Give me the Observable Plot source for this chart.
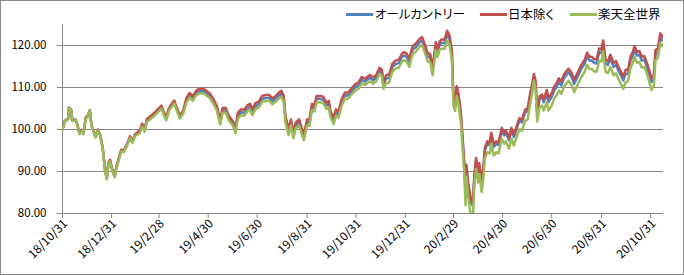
<!DOCTYPE html>
<html>
<head>
<meta charset="utf-8">
<script src="https://cdn.jsdelivr.net/npm/d3@7"></script>
<script src="https://cdn.jsdelivr.net/npm/@observablehq/plot@0.6"></script>
<style>
  html, body { margin: 0; padding: 0; background: #fff; }
  #wrap { position: relative; width: 684px; height: 275px; overflow: hidden; background: #fff; }
  #chart { position: absolute; left: 0; top: 0; }
  #frame { position: absolute; left: 0; top: 0; width: 684px; height: 275px; box-sizing: border-box; border: 1px solid #8a8a8a; pointer-events: none; }
  .leg { position: absolute; font-family: "Noto Sans CJK JP", sans-serif; font-size: 12.5px; line-height: 16px; top: 6px; color: #000; font-feature-settings: "palt"; white-space: nowrap; }
  .sw { position: absolute; top: 13px; height: 3px; width: 27px; }
  .xax text { font-size: 12px; }
</style>
</head>
<body>
<div id="wrap">
  <div id="chart"></div>
  <div id="legend"></div>
  <div id="frame"></div>
</div>
<script>
const seriesNames = ["オールカントリー", "日本除く", "楽天全世界"];
const seriesColors = ["#4F81BD", "#C0504D", "#9BBB59"];

const dates = [
  "2018-10-31","2018-11-03","2018-11-07","2018-11-08","2018-11-11","2018-11-12","2018-11-16","2018-11-18","2018-11-21","2018-11-24","2018-11-26","2018-11-29","2018-12-01","2018-12-04","2018-12-06","2018-12-11","2018-12-14","2018-12-17","2018-12-20",
  "2018-12-23","2018-12-25","2018-12-27","2018-12-29","2019-01-01","2019-01-04","2019-01-06","2019-01-09","2019-01-12","2019-01-15","2019-01-19","2019-01-23","2019-01-26","2019-01-29",
  "2019-02-04","2019-02-07","2019-02-10","2019-02-13","2019-02-18","2019-02-23","2019-02-27","2019-03-03","2019-03-06","2019-03-09","2019-03-12","2019-03-15","2019-03-19","2019-03-21","2019-03-26","2019-03-30",
  "2019-04-03","2019-04-07","2019-04-11","2019-04-15","2019-04-19","2019-04-24","2019-04-28","2019-05-02","2019-05-07","2019-05-11","2019-05-15","2019-05-18","2019-05-22","2019-05-25","2019-05-28","2019-05-31",
  "2019-06-03","2019-06-06","2019-06-10","2019-06-14","2019-06-18","2019-06-21","2019-06-24","2019-06-28","2019-07-02","2019-07-06","2019-07-11","2019-07-15","2019-07-19","2019-07-23","2019-07-27","2019-07-30","2019-08-02","2019-08-04","2019-08-08","2019-08-11","2019-08-14","2019-08-17","2019-08-21","2019-08-24","2019-08-27","2019-08-31",
  "2019-09-03","2019-09-06","2019-09-09","2019-09-12","2019-09-16","2019-09-20","2019-09-24","2019-09-27","2019-09-29","2019-10-03","2019-10-06","2019-10-09","2019-10-13","2019-10-17","2019-10-21","2019-10-26","2019-10-30","2019-11-03","2019-11-07","2019-11-11","2019-11-17","2019-11-21","2019-11-25","2019-11-29","2019-12-02","2019-12-04",
  "2019-12-07","2019-12-11","2019-12-15","2019-12-19","2019-12-23","2019-12-27","2019-12-30","2020-01-02","2020-01-05","2020-01-09","2020-01-13","2020-01-18","2020-01-21","2020-01-24","2020-01-28","2020-01-31","2020-02-03","2020-02-07","2020-02-09","2020-02-12",
  "2020-02-14","2020-02-18","2020-02-21","2020-02-24","2020-02-27","2020-02-28","2020-02-29",
  "2020-03-02","2020-03-04","2020-03-06","2020-03-09","2020-03-11","2020-03-13","2020-03-15","2020-03-16","2020-03-18","2020-03-20","2020-03-22","2020-03-24",
  "2020-03-26","2020-03-28","2020-03-31","2020-04-01","2020-04-04","2020-04-06","2020-04-08","2020-04-11","2020-04-14","2020-04-16","2020-04-19","2020-04-22","2020-04-25","2020-04-29","2020-05-02","2020-05-04","2020-05-08","2020-05-11","2020-05-14","2020-05-18","2020-05-21","2020-05-24","2020-05-28","2020-05-31","2020-06-03","2020-06-06","2020-06-08","2020-06-10","2020-06-12","2020-06-15","2020-06-18","2020-06-20",
  "2020-06-24","2020-06-26","2020-06-30","2020-07-03","2020-07-06","2020-07-09","2020-07-12","2020-07-15","2020-07-18","2020-07-21","2020-07-25","2020-07-28","2020-07-31","2020-08-03","2020-08-06","2020-08-10","2020-08-13","2020-08-16","2020-08-19","2020-08-22","2020-08-25","2020-08-28","2020-08-31","2020-09-02","2020-09-05","2020-09-08","2020-09-11","2020-09-15","2020-09-18","2020-09-21","2020-09-24","2020-09-27","2020-09-30",
  "2020-10-03","2020-10-06","2020-10-09","2020-10-11","2020-10-14","2020-10-17","2020-10-20","2020-10-23","2020-10-25","2020-10-28","2020-11-01","2020-11-04","2020-11-06","2020-11-09","2020-11-12","2020-11-14","2020-11-16"
];

const allCountry = [
  100.0,102.0,102.5,105.1,104.5,102.1,102.3,101.5,99.0,99.8,99.0,102.8,103.0,104.5,101.0,98.2,99.9,98.6,95.4,
  90.2,88.3,91.8,92.6,90.2,88.8,91.0,93.0,95.0,94.8,96.2,98.2,97.0,98.6,
  99.4,101.0,99.8,102.1,102.9,103.7,104.5,105.3,103.7,102.5,104.5,105.5,106.5,105.3,102.9,104.1,
  106.9,108.1,107.3,108.6,109.1,109.1,108.6,108.0,106.5,104.9,101.7,104.5,104.5,102.9,102.1,101.3,
  99.8,103.3,104.1,104.0,105.1,105.4,104.1,105.6,105.9,107.3,107.5,107.5,106.7,107.3,108.1,108.5,107.3,102.5,99.4,101.7,98.6,101.0,101.7,99.8,98.2,101.7,
  101.7,105.4,105.1,107.3,107.3,107.1,105.7,106.1,103.7,102.1,104.1,103.6,106.5,108.1,108.1,109.3,110.1,110.5,111.8,111.4,112.3,111.7,112.3,114.0,113.5,110.5,
  112.1,112.3,114.9,115.6,115.8,117.3,117.6,117.2,116.0,119.0,119.6,120.8,121.2,119.6,117.3,117.2,114.0,120.0,118.4,120.2,
  120.6,120.6,122.6,121.6,118.0,111.7,107.0,
  106.2,109.7,108.1,103.7,98.2,92.6,85.5,91.0,87.0,84.5,82.5,81.8,
  88.7,92.6,89.4,91.4,87.1,90.2,95.0,96.6,96.3,98.6,95.8,96.6,96.3,99.8,98.6,99.2,97.4,99.8,98.2,100.5,102.1,101.7,104.1,104.3,107.7,110.5,112.5,111.0,103.7,107.3,107.7,106.5,
  108.5,106.5,107.7,109.3,110.1,111.3,110.5,112.1,112.9,113.6,112.5,110.9,112.1,113.3,114.5,115.7,117.4,116.4,116.4,115.8,115.8,118.4,118.2,120.2,115.7,115.4,116.9,114.9,115.4,114.0,112.9,111.7,113.3,
  113.3,116.4,117.6,119.0,117.6,117.8,116.4,116.6,115.7,114.0,111.3,112.1,118.0,118.4,122.0,121.2,121.6
];

const exJapan = [
  100.0,102.1,102.6,105.2,104.6,102.2,102.4,101.6,99.1,99.9,99.1,102.9,103.1,104.6,101.1,98.3,100.0,98.7,95.5,
  90.4,88.5,92.0,92.8,90.4,89.0,91.2,93.2,95.2,95.0,96.4,98.4,97.2,98.8,
  99.8,101.4,100.2,102.5,103.3,104.1,104.9,105.7,104.1,102.9,104.9,105.9,106.9,105.7,103.3,104.5,
  107.5,108.7,107.9,109.2,109.7,109.7,109.2,108.6,107.1,105.5,102.3,105.1,105.1,103.5,102.7,101.9,
  100.5,104.0,104.8,104.7,105.8,106.1,104.8,106.3,106.6,108.0,108.2,108.2,107.4,108.0,108.8,109.2,108.0,103.2,100.1,102.4,99.3,101.7,102.4,100.5,98.9,102.4,
  102.4,106.1,105.8,108.0,108.0,107.8,106.4,106.8,104.4,102.8,104.8,104.3,107.2,108.8,108.8,110.0,110.8,111.2,112.5,112.1,113.0,112.4,113.0,114.7,114.2,111.2,
  112.9,113.1,115.7,116.4,116.6,118.1,118.4,118.0,116.8,119.8,120.4,121.6,122.0,120.4,118.1,118.0,114.8,120.8,119.2,121.0,
  121.4,121.4,123.5,122.4,118.8,112.5,107.8,
  106.8,110.3,108.7,104.3,98.8,93.2,86.1,91.6,87.6,85.1,83.1,82.4,
  89.3,93.2,90.0,92.0,87.7,90.8,95.6,97.2,96.9,99.2,96.4,97.2,96.9,100.4,99.2,99.8,98.0,100.4,98.8,101.1,102.7,102.3,104.7,104.9,108.3,111.1,113.2,111.6,104.3,107.9,108.3,107.1,
  109.4,107.4,108.6,110.2,111.0,112.2,111.4,113.0,113.8,114.5,113.4,111.8,113.0,114.2,115.4,116.6,118.3,117.3,117.3,116.7,116.7,119.3,119.1,121.2,116.6,116.3,117.8,115.8,116.3,114.9,113.8,112.6,114.2,
  114.2,117.3,118.5,119.9,118.5,118.7,117.3,117.5,116.6,114.9,112.2,113.0,118.9,119.3,122.9,122.1,122.4
];

const rakuten = [
  100.0,101.9,102.4,105.0,104.4,102.0,102.2,101.4,98.9,99.7,98.9,102.7,102.9,104.4,100.9,98.1,99.8,98.5,95.3,
  90.0,88.1,91.6,92.4,90.0,88.6,90.8,92.8,94.8,94.6,96.0,98.0,96.8,98.4,
  99.1,100.7,99.5,101.8,102.6,103.4,104.2,105.0,103.4,102.2,104.2,105.2,106.2,105.0,102.6,103.8,
  106.4,107.6,106.8,108.1,108.6,108.6,108.1,107.5,106.0,104.4,101.2,104.0,104.0,102.4,101.6,100.8,
  99.1,102.6,103.4,103.3,104.4,104.7,103.4,104.9,105.2,106.6,106.8,106.8,106.0,106.6,107.4,107.8,106.6,101.8,98.7,101.0,97.9,100.3,101.0,99.1,97.5,101.0,
  100.9,104.6,104.3,106.5,106.5,106.3,104.9,105.3,102.9,101.3,103.3,102.8,105.7,107.3,107.3,108.5,109.3,109.7,111.0,110.6,111.5,110.9,111.5,113.2,112.7,109.7,
  111.0,111.2,113.8,114.5,114.7,116.2,116.5,116.1,114.9,117.9,118.5,119.7,120.1,118.5,116.2,116.1,112.9,118.9,117.3,119.1,
  119.2,119.2,121.2,120.2,116.6,110.3,105.6,
  104.4,107.9,106.3,101.9,96.4,90.6,82.0,88.8,84.5,81.5,79.0,78.8,
  86.7,90.6,87.4,89.4,85.1,88.2,93.0,94.6,94.3,96.6,93.8,94.6,94.3,97.8,96.6,97.2,95.4,97.8,96.2,98.5,100.1,99.7,102.1,102.3,105.7,108.9,111.6,109.5,101.9,105.3,105.7,104.5,
  106.5,104.5,105.7,107.3,108.1,109.3,108.5,110.1,110.9,111.6,110.5,108.9,110.1,111.3,112.5,113.7,115.4,114.4,114.4,113.8,113.8,116.4,116.2,118.6,113.7,113.4,114.9,112.9,113.4,112.0,110.9,109.7,111.3,
  111.6,114.7,115.9,117.3,115.9,116.1,114.7,114.9,114.0,112.3,109.4,110.4,116.5,117.0,120.6,119.9,120.4
];

const yTicks = [80, 90, 100, 110, 120];
const xTickDates = ["2018-10-31","2018-12-31","2019-02-28","2019-04-30","2019-06-30","2019-08-31","2019-10-31","2019-12-31","2020-02-29","2020-04-30","2020-06-30","2020-08-31","2020-10-31"];
const xDomain = ["2018-10-31", "2020-11-16"];
const yDomain = [80, 125];

const parse = d3.utcParse("%Y-%m-%d");
const seriesValues = [allCountry, exJapan, rakuten];
const rows = [];
seriesNames.forEach((name, s) => {
  dates.forEach((d, i) => rows.push({date: parse(d), value: seriesValues[s][i], series: name}));
});

const fmtX = d => `${String(d.getUTCFullYear()).slice(2)}/${d.getUTCMonth() + 1}/${d.getUTCDate()}`;
const grid = "#868686";
const xTicks = xTickDates.map(parse);

const chart = Plot.plot({
  width: 684,
  height: 275,
  marginLeft: 62,
  marginRight: 21,
  marginTop: 24,
  marginBottom: 62,
  style: {fontFamily: "'Noto Sans CJK JP', sans-serif", fontSize: "11.5px", color: "#000", background: "transparent", overflow: "visible"},
  x: {type: "utc", domain: xDomain.map(parse)},
  y: {domain: yDomain},
  color: {domain: seriesNames, range: seriesColors},
  marks: [
    Plot.gridY(yTicks, {stroke: grid, strokeOpacity: 1, strokeWidth: 1}),
    Plot.ruleX([parse(xDomain[0])], {stroke: grid, strokeWidth: 1}),
    Plot.ruleY([yDomain[0]], {stroke: grid, strokeWidth: 1}),
    Plot.axisY(yTicks, {tickSize: 5, tickPadding: 11, stroke: grid, fill: "#000", tickFormat: d => d.toFixed(2), label: null}),
    Plot.axisX(xTicks, {tickSize: 5, stroke: grid, tickFormat: () => "", label: null}),
    Plot.axisX(xTicks, {tickSize: 0, tickPadding: 8, tickRotate: -45, fill: "#000", tickFormat: fmtX, label: null, className: "xax", dx: 3}),
    Plot.lineY(rows, {x: "date", y: "value", z: "series", stroke: "series", strokeWidth: 2.5, clip: true, strokeLinejoin: "round"})
  ]
});
document.getElementById("chart").appendChild(chart);

// legend
const legend = document.getElementById("legend");
const legPos = [[346, 375], [480, 508], [570, 598]];
seriesNames.forEach((name, i) => {
  const sw = document.createElement("div");
  sw.className = "sw";
  sw.style.left = legPos[i][0] + "px";
  sw.style.background = seriesColors[i];
  legend.appendChild(sw);
  const t = document.createElement("div");
  t.className = "leg";
  t.style.left = legPos[i][1] + "px";
  t.textContent = name;
  legend.appendChild(t);
});
</script>
</body>
</html>
